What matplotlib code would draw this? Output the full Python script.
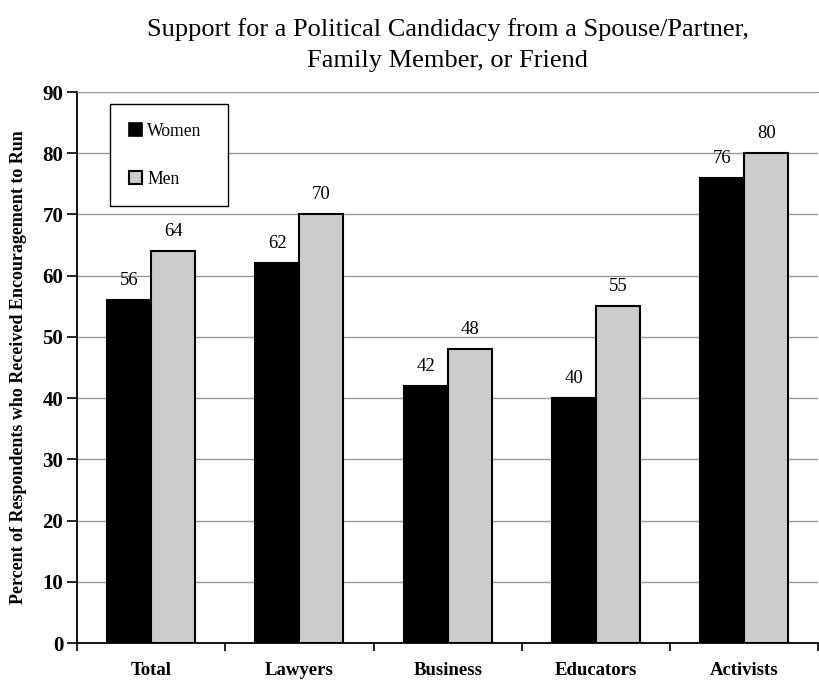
import matplotlib

matplotlib.use("Agg")
import matplotlib.pyplot as plt
import numpy as np
from matplotlib.patches import Patch

plt.rcParams["font.family"] = ["Liberation Serif", "DejaVu Serif"]

# ---- data -------------------------------------------------------------------
CATEGORIES = ["Total", "Lawyers", "Business", "Educators", "Activists"]
WOMEN = [56, 62, 42, 40, 76]
MEN = [64, 70, 48, 55, 80]

TITLE = "Support for a Political Candidacy from a Spouse/Partner,\nFamily Member, or Friend"
YLABEL = "Percent of Respondents who Received Encouragement to Run"

WOMEN_COLOR = "black"
MEN_COLOR = "#cccccc"
BAR_W = 0.297

fig = plt.figure(figsize=(8.2, 6.81), dpi=100)
ax = fig.add_axes([0.094, 0.0558, 0.904, 0.809])

x = np.arange(len(CATEGORIES))
bw = ax.bar(x - BAR_W / 2, WOMEN, BAR_W, color=WOMEN_COLOR, edgecolor="black",
            linewidth=1.5, zorder=3)
bm = ax.bar(x + BAR_W / 2, MEN, BAR_W, color=MEN_COLOR, edgecolor="black",
            linewidth=1.5, zorder=3)

for rects, vals in ((bw, WOMEN), (bm, MEN)):
    for r, v in zip(rects, vals):
        ax.text(r.get_x() + r.get_width() / 2, v + 1.8, f"{v}", ha="center",
                va="bottom", fontsize=13.5)

ax.set_xlim(-0.5, len(CATEGORIES) - 0.5)
ax.set_ylim(0, 90)
ax.set_yticks(range(0, 91, 10))
ax.yaxis.grid(True, color="#999999", linewidth=1.0, zorder=0)
ax.set_axisbelow(True)

# category labels centred, tick marks between categories
ax.set_xticks(x, CATEGORIES, fontweight="bold", fontsize=13.5)
ax.tick_params(axis="x", which="major", length=0, pad=14)
ax.set_xticks(np.arange(-0.5, len(CATEGORIES) + 0.5, 1.0), minor=True)
ax.tick_params(axis="x", which="minor", length=6, width=1.2, direction="out")
ax.tick_params(axis="y", length=7, width=1.2, direction="out", labelsize=15,
               pad=3)
for lbl in ax.get_yticklabels():
    lbl.set_fontweight("bold")

ax.spines["left"].set_linewidth(1.3)
ax.spines["bottom"].set_linewidth(1.3)
ax.spines["right"].set_visible(False)
ax.spines["top"].set_color("#999999")

ax.set_ylabel(YLABEL, fontweight="bold", fontsize=13, labelpad=11)
ax.set_title(TITLE, fontsize=19, pad=18, linespacing=1.52)

handles = [Patch(facecolor=WOMEN_COLOR, edgecolor="black", linewidth=1.2),
           Patch(facecolor=MEN_COLOR, edgecolor="black", linewidth=1.5)]
leg = ax.legend(handles, ["Women", "Men"], loc="upper left", mode="expand",
                bbox_to_anchor=(0.0445, 0.0, 0.159, 0.978), fancybox=False,
                framealpha=1, edgecolor="black", fontsize=12.7,
                handlelength=0.75, handleheight=0.75, handletextpad=0.3,
                labelspacing=1.75, borderpad=1.05, borderaxespad=0)
leg.get_frame().set_linewidth(1.0)

fig.savefig("out.png", dpi=100)
